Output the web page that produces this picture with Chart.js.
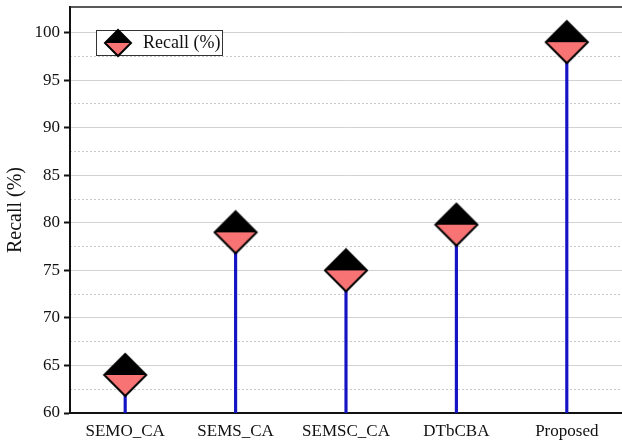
<!DOCTYPE html>
<html>
<head>
<meta charset="utf-8">
<script src="https://cdn.jsdelivr.net/npm/chart.js@4/dist/chart.umd.min.js"></script>
<style>
  html, body { margin: 0; padding: 0; background: #fff; }
  #wrap { width: 622px; height: 444px; }
</style>
</head>
<body>
<div id="wrap"><canvas id="chart"></canvas></div>
<script>
const methods = ["SEMO_CA", "SEMS_CA", "SEMSC_CA", "DTbCBA", "Proposed"];
const recall = [64, 79, 75, 79.8, 99];
const seriesLabel = "Recall (%)";
const yMajorTicks = [60, 65, 70, 75, 80, 85, 90, 95, 100];
const yMinorTicks = [62.5, 67.5, 72.5, 77.5, 82.5, 87.5, 92.5, 97.5];

const serif = "'Liberation Serif', 'Times New Roman', serif";

// half black / half salmon diamond used as the point marker
function diamond(r) {
  const size = 2 * r + 4;
  const c = document.createElement("canvas");
  c.width = size;
  c.height = size;
  const g = c.getContext("2d");
  const m = size / 2;
  g.fillStyle = "#000";
  g.beginPath();
  g.moveTo(m - r, m); g.lineTo(m, m - r); g.lineTo(m + r, m);
  g.closePath();
  g.fill();
  g.fillStyle = "#f87474";
  g.beginPath();
  g.moveTo(m - r, m); g.lineTo(m, m + r); g.lineTo(m + r, m);
  g.closePath();
  g.fill();
  g.strokeStyle = "#000";
  g.lineWidth = 2;
  g.beginPath();
  g.moveTo(m - r, m); g.lineTo(m, m - r); g.lineTo(m + r, m); g.lineTo(m, m + r);
  g.closePath();
  g.stroke();
  return c;
}

const bigMarker = diamond(21);
const smallMarker = diamond(13);

const framePlugin = {
  id: "frame",
  afterDatasetsDraw(chart) {
    const ctx = chart.ctx;
    const a = chart.chartArea;
    ctx.save();
    // top frame line
    ctx.strokeStyle = "#222";
    ctx.lineWidth = 1.5;
    ctx.beginPath();
    ctx.moveTo(a.left, a.top);
    ctx.lineTo(a.right, a.top);
    ctx.stroke();

    // legend box inside the plot
    const bx = a.left + 26, by = a.top + 23;
    ctx.fillStyle = "#fff";
    ctx.fillRect(bx, by, 126, 25);
    ctx.strokeStyle = "#333";
    ctx.lineWidth = 1;
    ctx.strokeRect(bx + 0.5, by + 0.5, 126, 25);
    ctx.drawImage(smallMarker, bx + 22 - smallMarker.width / 2, by + 13 - smallMarker.height / 2);
    ctx.fillStyle = "#111";
    ctx.font = "18px " + serif;
    ctx.textBaseline = "middle";
    ctx.fillText(seriesLabel, bx + 47, by + 13);
    ctx.restore();
  }
};

function noPad(scale) {
  scale.paddingTop = 0;
  scale.paddingBottom = 0;
  scale.paddingLeft = 0;
  scale.paddingRight = 0;
}

new Chart(document.getElementById("chart"), {
  type: "bar",
  data: {
    labels: methods,
    datasets: [
      {
        type: "line",
        label: seriesLabel,
        data: recall,
        showLine: false,
        pointStyle: bigMarker,
        pointRadius: 21,
        clip: false,
        order: 0
      },
      {
        type: "bar",
        label: "stem",
        data: recall,
        backgroundColor: "#1414c4",
        barThickness: 2.5,
        order: 1
      }
    ]
  },
  options: {
    responsive: true,
    maintainAspectRatio: false,
    animation: false,
    layout: { autoPadding: false, padding: { top: 7, right: 0, left: 0, bottom: 0 } },
    plugins: {
      legend: { display: false },
      tooltip: { enabled: false }
    },
    scales: {
      x: {
        offset: true,
        grid: { display: false, drawTicks: false, tickLength: 0 },
        border: { color: "#111", width: 2 },
        ticks: { color: "#111", padding: 8, maxRotation: 0, font: { family: serif, size: 17 } },
        afterFit(scale) { noPad(scale); scale.height = 31; }
      },
      y: {
        position: "left",
        min: 60,
        max: 102.7,
        afterBuildTicks(axis) { axis.ticks = yMajorTicks.map(v => ({ value: v })); },
        afterFit(scale) { noPad(scale); scale.width = 70; },
        grid: { color: "#d2d2d2", lineWidth: 1, tickLength: 6, tickColor: "#111", tickWidth: 2 },
        border: { color: "#111", width: 2 },
        ticks: { color: "#111", padding: 4, font: { family: serif, size: 17 } },
        title: {
          display: true,
          text: "Recall (%)",
          color: "#111",
          font: { family: serif, size: 20 },
          padding: { top: 4, bottom: 4 }
        }
      },
      yMinor: {
        position: "right",
        min: 60,
        max: 102.7,
        afterBuildTicks(axis) { axis.ticks = yMinorTicks.map(v => ({ value: v })); },
        afterFit(scale) { noPad(scale); scale.width = 0; },
        grid: { color: "#c8c8c8", lineWidth: 1, drawTicks: false },
        border: { display: false, dash: [2, 2] },
        ticks: { display: false }
      }
    }
  },
  plugins: [framePlugin]
});
</script>
</body>
</html>
